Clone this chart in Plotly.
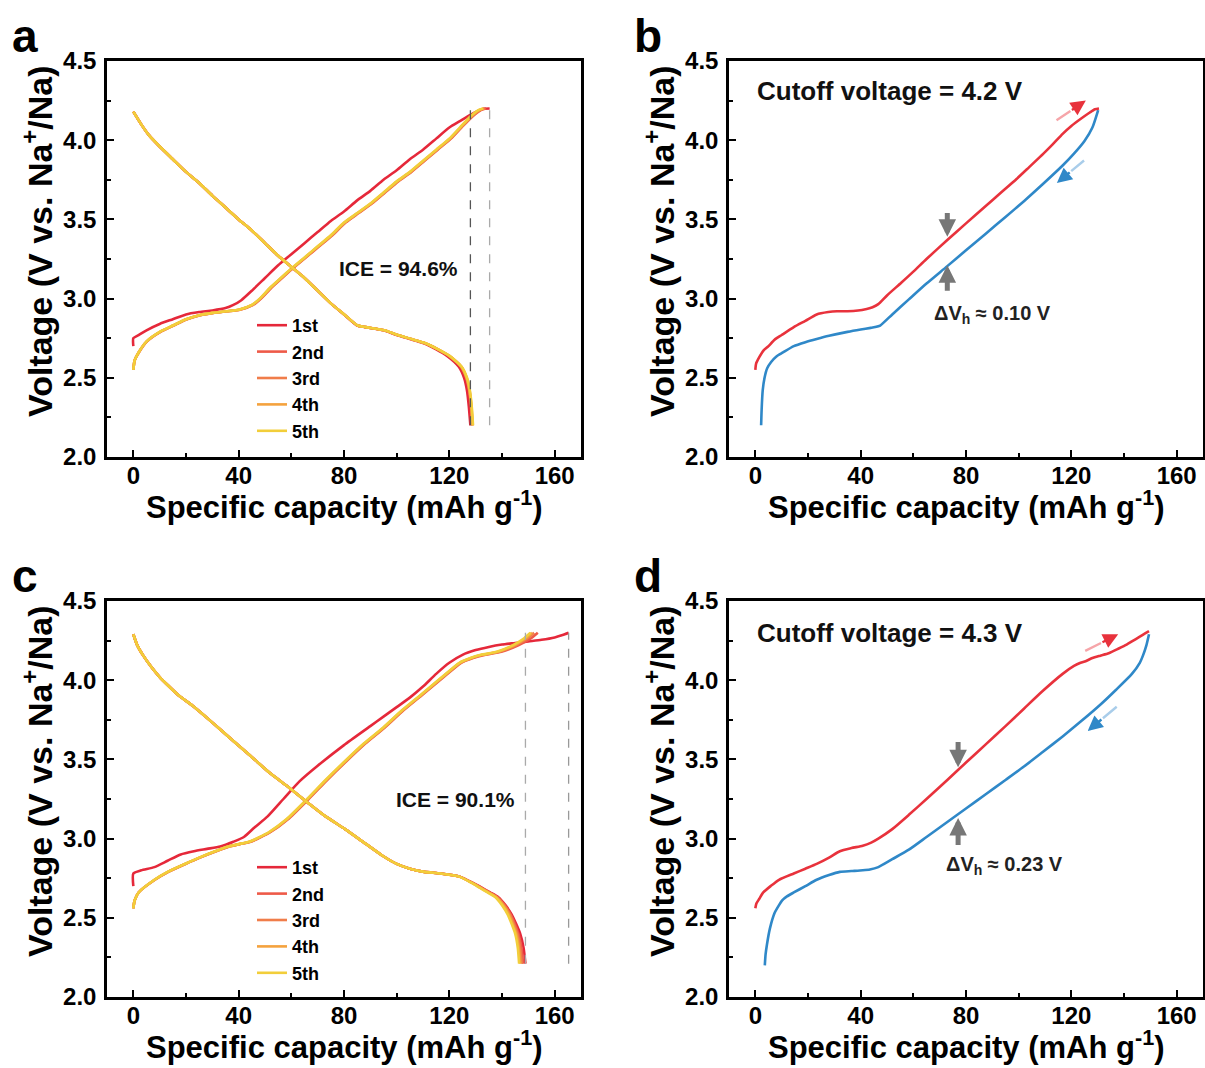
import plotly.graph_objects as go
from plotly.subplots import make_subplots

FONT = "Liberation Sans, Arial, sans-serif"
W, H = 1205, 1068

CYCLE_NAMES = ["1st", "2nd", "3rd", "4th", "5th"]
CYCLE_COLORS = ["#E5283A", "#EE5A48", "#F07D4A", "#F4A23E", "#F2CE3A"]
CHARGE_RED = "#E8323C"
DISCHARGE_BLUE = "#2F88C8"

X_TITLE = "Specific capacity (mAh g<sup>-1</sup>)"
Y_TITLE = "Voltage (V vs. Na<sup>+</sup>/Na)"

# ---------------- panel a: 2.2-4.2 V, first five cycles ----------------
A_CHG1_CAP = [0, 0, 2, 5, 10, 15, 20, 25, 30, 35, 38, 41, 45, 50, 55, 60, 65, 70, 75,
              80, 85, 90, 95, 100, 105, 110, 115, 120, 124, 128, 131, 133, 135.3]
A_CHG1_V = [2.70, 2.75, 2.77, 2.80, 2.84, 2.87, 2.90, 2.915, 2.925, 2.94, 2.96, 2.99, 3.05,
            3.13, 3.21, 3.28, 3.35, 3.42, 3.49, 3.55, 3.62, 3.68, 3.75, 3.81, 3.88, 3.94,
            4.01, 4.08, 4.12, 4.16, 4.185, 4.198, 4.20]
A_CHG_V = [2.55, 2.61, 2.66, 2.73, 2.79, 2.83, 2.87, 2.895, 2.91, 2.92, 2.93, 2.96, 3.00,
           3.07, 3.13, 3.19, 3.26, 3.33, 3.40, 3.48, 3.54, 3.60, 3.67, 3.74, 3.80, 3.87,
           3.94, 4.01, 4.08, 4.15, 4.19, 4.20]
A_CHG2_CAP = [0, 0.5, 2.1, 5.2, 10.3, 15.3, 20.4, 25.4, 30.4, 35.5, 40.5, 45.5, 48.5, 52.5,
              56.5, 60.5, 65.5, 70.6, 75.6, 80.6, 85.6, 90.6, 95.6, 100.6, 105.6, 110.6,
              115.6, 120.6, 124.6, 128.8, 132, 134]
A_CHG3_CAP = [0, 0.5, 2, 5.1, 10.2, 15.2, 20.2, 25.2, 30.2, 35.3, 40.3, 45.3, 48.3, 52.3,
              56.3, 60.3, 65.3, 70.3, 75.4, 80.4, 85.4, 90.4, 95.4, 100.4, 105.4, 110.4,
              115.4, 120.4, 124.4, 128.5, 131.6, 133.5]
A_CHG4_CAP = [0, 0.5, 2, 5.1, 10.1, 15.1, 20.1, 25.1, 30.1, 35.1, 40.1, 45.1, 48.1, 52.1,
              56.1, 60.2, 65.2, 70.2, 75.2, 80.2, 85.2, 90.2, 95.2, 100.2, 105.2, 110.2,
              115.2, 120.2, 124.2, 128.2, 131.3, 133.1]
A_CHG5_CAP = [0, 0.5, 2, 5, 10, 15, 20, 25, 30, 35, 40, 45, 48, 52, 56, 60, 65, 70, 75, 80,
              85, 90, 95, 100, 105, 110, 115, 120, 124, 128, 131, 132.8]
A_DIS_V = [4.18, 4.10, 4.03, 3.96, 3.88, 3.80, 3.73, 3.65, 3.575, 3.50, 3.43, 3.35, 3.27,
           3.20, 3.13, 3.05, 2.97, 2.90, 2.83, 2.82, 2.80, 2.77, 2.745, 2.72, 2.68, 2.64,
           2.57, 2.50, 2.42, 2.32, 2.20]
A_DIS1_CAP = [0, 3, 6, 10, 15, 20, 25, 30, 35, 40, 45, 50, 55, 60, 65, 70, 75, 80, 85, 88,
              95, 100, 105, 110, 115, 119, 123.6, 125.6, 126.7, 127.4, 128.0]
A_DIS2_CAP = [0, 3, 6, 10, 15, 20, 25, 30, 35, 40, 45, 50, 55, 60, 65, 70, 75, 80, 85.1,
              88.1, 95.2, 100.3, 105.4, 110.5, 115.6, 119.7, 124.4, 126.4, 127.5, 128.2, 128.7]
A_DIS3_CAP = [0, 3, 6, 10, 15, 20, 25, 30, 35, 40, 45, 50, 55, 60, 65, 70, 75, 80.1, 85.2,
              88.2, 95.3, 100.4, 105.5, 110.6, 115.7, 119.8, 124.5, 126.5, 127.6, 128.3, 128.8]
A_DIS4_CAP = [0, 3, 6, 10, 15, 20, 25, 30, 35, 40, 45, 50, 55, 60, 65, 70, 75, 80.1, 85.2,
              88.2, 95.3, 100.4, 105.5, 110.6, 115.7, 119.9, 124.6, 126.6, 127.7, 128.4, 128.9]
A_DIS5_CAP = [0, 3, 6, 10, 15, 20, 25, 30, 35, 40, 45, 50, 55, 60, 65, 70, 75, 80.1, 85.2,
              88.3, 95.4, 100.5, 105.6, 110.7, 115.8, 120, 124.7, 126.7, 127.8, 128.5, 129.0]

# ---------------- panel b: hysteresis loop, 4.2 V cutoff ----------------
B_CHG_CAP = [0, 0.3, 1.5, 3, 5, 7.3, 10, 14.6, 19, 23.3, 27.7, 31, 35, 39, 42.3, 44.5, 46.7,
             50, 55.4, 60, 65, 72.9, 80, 87.5, 93, 99.2, 104, 109.4, 113, 116.7, 120, 124,
             127, 129, 130.5]
B_CHG_V = [2.55, 2.59, 2.63, 2.67, 2.70, 2.74, 2.77, 2.82, 2.86, 2.90, 2.915, 2.92, 2.92,
           2.925, 2.935, 2.945, 2.965, 3.02, 3.10, 3.17, 3.25, 3.37, 3.475, 3.585, 3.665,
           3.755, 3.83, 3.915, 3.975, 4.04, 4.09, 4.14, 4.175, 4.195, 4.20]
B_DIS_CAP = [2.2, 2.4, 2.8, 3.5, 4.5, 6, 8, 10.5, 14.6, 19, 23.3, 28, 35, 40, 43.8, 45.5,
             47.4, 52, 58.3, 65, 72.9, 80, 87.5, 95, 102, 109, 116.7, 121, 125, 128, 130.2]
B_DIS_V = [2.20, 2.30, 2.42, 2.50, 2.56, 2.60, 2.635, 2.66, 2.70, 2.725, 2.745, 2.765, 2.79,
           2.805, 2.815, 2.82, 2.83, 2.90, 2.995, 3.095, 3.205, 3.305, 3.41, 3.515, 3.615,
           3.72, 3.84, 3.915, 3.995, 4.08, 4.19]

# ---------------- panel c: 2.2-4.3 V, first five cycles ----------------
C_CHG1_CAP = [0, 0, 3, 8, 13, 18, 23, 28, 33, 38, 42, 46, 51, 57, 63, 70, 80, 90, 95, 100,
              105, 110, 115, 120, 125, 130, 135, 140, 145, 150, 155, 160, 163, 165.3]
C_CHG1_V = [2.70, 2.78, 2.80, 2.82, 2.86, 2.90, 2.92, 2.935, 2.95, 2.98, 3.01, 3.07, 3.14,
            3.25, 3.36, 3.46, 3.59, 3.71, 3.77, 3.83, 3.89, 3.96, 4.04, 4.11, 4.16, 4.19,
            4.21, 4.225, 4.235, 4.245, 4.255, 4.27, 4.285, 4.30]
C_CHG_V = [2.56, 2.61, 2.66, 2.74, 2.79, 2.84, 2.88, 2.92, 2.95, 2.965, 2.98, 3.04, 3.12,
           3.25, 3.37, 3.49, 3.60, 3.70, 3.81, 3.91, 4.01, 4.11, 4.14, 4.16, 4.18, 4.22,
           4.26, 4.30]
C_CHG2_CAP = [0, 0.5, 2, 8.2, 13.3, 19.8, 25.3, 31.4, 36.5, 40.5, 44.6, 52, 58.6, 66.6, 73.6,
              81, 88.1, 95.4, 102.6, 109.9, 117.2, 124.5, 129, 133.4, 139.8, 146.2, 150.6, 153.6]
C_CHG3_CAP = [0, 0.5, 2, 8.1, 13.2, 19.7, 25.2, 31.3, 36.3, 40.3, 44.4, 51.8, 58.4, 66.4,
              73.4, 80.8, 87.9, 95.2, 102.4, 109.7, 116.9, 124.2, 128.6, 132.8, 139, 145.2,
              149.3, 152.2]
C_CHG4_CAP = [0, 0.5, 2, 8.1, 13.1, 19.6, 25.1, 31.2, 36.2, 40.2, 44.2, 51.6, 58.2, 66.2,
              73.2, 80.6, 87.7, 95, 102.2, 109.5, 116.7, 124, 128.3, 132.4, 138.5, 144.6,
              148.6, 151.4]
C_CHG5_CAP = [0, 0.5, 2, 8, 13, 19.5, 25, 31, 36, 40, 44, 51.4, 58, 66, 73, 80.4, 87.5, 94.8,
              102, 109.3, 116.5, 123.8, 128, 132, 138, 144, 148, 150.8]
C_DIS_V = [4.29, 4.22, 4.16, 4.08, 4.02, 3.97, 3.90, 3.84, 3.74, 3.63, 3.53, 3.42, 3.33,
           3.23, 3.14, 3.06, 2.97, 2.89, 2.84, 2.81, 2.79, 2.78, 2.76, 2.72, 2.69, 2.66,
           2.63, 2.58, 2.52, 2.46, 2.40, 2.31, 2.21]
C_DIS1_CAP = [0, 1.5, 3.6, 7, 10, 13, 17.5, 22.4, 29.5, 37, 44, 51.4, 58.5, 66, 73, 80.4, 88,
              94.8, 100, 105, 110.5, 116.6, 124, 129, 132.3, 135.5, 138.6, 141.3, 143.7,
              145.4, 146.9, 148.2, 148.9]
C_DIS2_CAP = [0, 1.5, 3.6, 7, 10, 13, 17.5, 22.4, 29.5, 37, 44, 51.4, 58.5, 66, 73, 80.4, 88,
              94.8, 100, 105, 110.5, 116.6, 123.9, 128.8, 132.1, 135.2, 138.3, 141, 143.3,
              144.9, 146.2, 147.4, 148]
C_DIS3_CAP = [0, 1.5, 3.6, 7, 10, 13, 17.5, 22.4, 29.5, 37, 44, 51.4, 58.5, 66, 73, 80.4, 88,
              94.8, 100, 105, 110.5, 116.6, 123.9, 128.7, 131.9, 135, 138.1, 140.7, 143,
              144.5, 145.8, 146.9, 147.5]
C_DIS4_CAP = [0, 1.5, 3.6, 7, 10, 13, 17.5, 22.4, 29.5, 37, 44, 51.4, 58.5, 66, 73, 80.4, 88,
              94.8, 100, 105, 110.5, 116.6, 123.8, 128.6, 131.7, 134.8, 137.8, 140.4, 142.6,
              144.1, 145.4, 146.4, 147]
C_DIS5_CAP = [0, 1.5, 3.6, 7, 10, 13, 17.5, 22.4, 29.5, 37, 44, 51.4, 58.5, 66, 73, 80.4, 88,
              94.8, 100, 105, 110.5, 116.6, 123.8, 128.5, 131.5, 134.5, 137.5, 140, 142.2,
              143.7, 145, 146, 146.5]

# ---------------- panel d: hysteresis loop, 4.3 V cutoff ----------------
D_CHG_CAP = [0, 0.4, 1.5, 3, 5.8, 9, 14.6, 19, 23.3, 28, 32.1, 36.5, 40.8, 44, 46.7, 52,
             58.3, 65, 72.9, 80, 87.5, 95, 102, 109, 116.7, 121, 123.5, 125.4, 128, 131,
             134.2, 138, 141, 143, 146, 148, 149.5]
D_CHG_V = [2.56, 2.59, 2.62, 2.66, 2.70, 2.74, 2.78, 2.81, 2.84, 2.88, 2.92, 2.94, 2.955,
           2.975, 3.00, 3.06, 3.15, 3.25, 3.37, 3.48, 3.595, 3.71, 3.82, 3.93, 4.04, 4.09,
           4.11, 4.12, 4.14, 4.155, 4.17, 4.20, 4.225, 4.245, 4.275, 4.295, 4.31]
D_DIS_CAP = [3.6, 3.9, 4.4, 5.5, 7.3, 9, 10.2, 12, 14.6, 19, 23.3, 28, 32.1, 36.5, 40.8,
             43.5, 46.7, 52, 58.3, 65, 72.9, 80, 87.5, 95, 102, 109, 116.7, 124, 131.3, 137,
             143, 146, 147.3, 148.5, 149.5]
D_DIS_V = [2.20, 2.27, 2.33, 2.43, 2.53, 2.58, 2.61, 2.635, 2.66, 2.70, 2.74, 2.77, 2.79,
           2.795, 2.80, 2.805, 2.82, 2.87, 2.93, 3.01, 3.105, 3.19, 3.28, 3.37, 3.455, 3.545,
           3.645, 3.745, 3.85, 3.94, 4.04, 4.11, 4.16, 4.22, 4.29]

A_CHARGE = [(A_CHG1_CAP, A_CHG1_V), (A_CHG2_CAP, A_CHG_V), (A_CHG3_CAP, A_CHG_V),
            (A_CHG4_CAP, A_CHG_V), (A_CHG5_CAP, A_CHG_V)]
A_DISCHARGE = [(c, A_DIS_V) for c in (A_DIS1_CAP, A_DIS2_CAP, A_DIS3_CAP, A_DIS4_CAP, A_DIS5_CAP)]
C_CHARGE = [(C_CHG1_CAP, C_CHG1_V), (C_CHG2_CAP, C_CHG_V), (C_CHG3_CAP, C_CHG_V),
            (C_CHG4_CAP, C_CHG_V), (C_CHG5_CAP, C_CHG_V)]
C_DISCHARGE = [(c, C_DIS_V) for c in (C_DIS1_CAP, C_DIS2_CAP, C_DIS3_CAP, C_DIS4_CAP, C_DIS5_CAP)]

# Guide arrows for panels b and d (capacity, voltage): tail -> head
B_GAP_X, B_GAP_TOP, B_GAP_BOT = 72.9, (3.55, 3.39), (3.04, 3.21)
D_GAP_X, D_GAP_TOP, D_GAP_BOT = 77.0, (3.62, 3.45), (2.95, 3.13)
B_RED_ARROW, B_BLUE_ARROW = ((113.8, 4.12), (125.5, 4.25)), ((125.4, 3.88), (114.5, 3.73))
D_RED_ARROW, D_BLUE_ARROW = ((124.7, 4.18), (137.8, 4.29)), ((137.8, 3.84), (126.2, 3.68))

fig = make_subplots(rows=2, cols=2)
CURVE = dict(width=2.6, shape="spline", smoothing=0.6)


def add_cycles(row, charge, discharge, legend_id):
    for i in range(5):
        cap, v = charge[i]
        fig.add_trace(go.Scatter(x=cap, y=v, mode="lines", name=CYCLE_NAMES[i],
                                 legendgroup=f"{legend_id}{i}", legend=legend_id,
                                 line=dict(color=CYCLE_COLORS[i], **CURVE)),
                      row=row, col=1)
    for i in range(5):
        cap, v = discharge[i]
        fig.add_trace(go.Scatter(x=cap, y=v, mode="lines", name=CYCLE_NAMES[i],
                                 legendgroup=f"{legend_id}{i}", legend=legend_id,
                                 showlegend=False,
                                 line=dict(color=CYCLE_COLORS[i], **CURVE)),
                      row=row, col=1)


def add_ice_guides(row, charge1, discharge1, dis_color, chg_color):
    # vertical guides at the first-cycle discharge and charge capacities
    dis_end = discharge1[0][-1]
    chg_end = charge1[0][-1]
    v_lo = min(discharge1[1])
    v_hi = max(charge1[1])
    for xv, col in ((dis_end, dis_color), (chg_end, chg_color)):
        fig.add_trace(go.Scatter(x=[xv, xv], y=[v_lo, v_hi], mode="lines", showlegend=False,
                                 hoverinfo="skip",
                                 line=dict(color=col, width=1.3, dash="dash")),
                      row=row, col=1)
    return 100 * dis_end / chg_end


add_cycles(1, A_CHARGE, A_DISCHARGE, "legend")
ice_a = add_ice_guides(1, A_CHARGE[0], A_DISCHARGE[0], "#555555", "#AAAAAA")
add_cycles(2, C_CHARGE, C_DISCHARGE, "legend2")
ice_c = add_ice_guides(2, C_CHARGE[0], C_DISCHARGE[0], "#AAAAAA", "#999999")

for row, (cc, cv, dc, dv) in ((1, (B_CHG_CAP, B_CHG_V, B_DIS_CAP, B_DIS_V)),
                              (2, (D_CHG_CAP, D_CHG_V, D_DIS_CAP, D_DIS_V))):
    fig.add_trace(go.Scatter(x=dc, y=dv, mode="lines", showlegend=False,
                             line=dict(color=DISCHARGE_BLUE, **CURVE)), row=row, col=2)
    fig.add_trace(go.Scatter(x=cc, y=cv, mode="lines", showlegend=False,
                             line=dict(color=CHARGE_RED, **CURVE)), row=row, col=2)

# ---------------- axes ----------------
PX_X = [(107, 581), (729, 1203)]
PX_Y = [(61, 457), (601, 997)]
tick_font = dict(family=FONT, size=24, color="black", weight="bold")

for k in range(4):
    r, c = divmod(k, 2)
    sx = "" if k == 0 else str(k + 1)
    fig.layout["xaxis" + sx].update(
        domain=(PX_X[c][0] / W, PX_X[c][1] / W), range=[-10, 170], tick0=0, dtick=40,
        ticks="inside", ticklen=7, tickwidth=2, tickcolor="black", ticklabelstandoff=-5,
        minor=dict(ticks="inside", ticklen=4, tickwidth=2, tickcolor="black", dtick=20, tick0=0),
        showline=True, linewidth=2.5, linecolor="black", mirror=True,
        showgrid=False, zeroline=False, automargin=False, tickfont=tick_font)
    fig.layout["yaxis" + sx].update(
        domain=(1 - PX_Y[r][1] / H, 1 - PX_Y[r][0] / H), range=[2.0, 4.5], tick0=2.0,
        dtick=0.5, tickformat=".1f", ticklabelstandoff=3,
        ticks="inside", ticklen=7, tickwidth=2, tickcolor="black",
        minor=dict(ticks="inside", ticklen=4, tickwidth=2, tickcolor="black", dtick=0.25, tick0=2.0),
        showline=True, linewidth=2.5, linecolor="black", mirror=True,
        showgrid=False, zeroline=False, automargin=False, tickfont=tick_font)

# ---------------- text and arrows ----------------
ann = []
for txt, px, py in (("a", 10, 8), ("b", 632, 8), ("c", 10, 548), ("d", 632, 548)):
    ann.append(dict(text=f"<b>{txt}</b>", xref="paper", yref="paper", x=px / W, y=1 - py / H,
                    xanchor="left", yanchor="top", showarrow=False,
                    font=dict(family=FONT, size=46, color="black")))

title_font = dict(family=FONT, size=31, color="black", weight="bold")
ytitle_font = dict(family=FONT, size=34, color="black", weight="bold")
for r in range(2):
    for c in range(2):
        x0, x1 = PX_X[c]
        y0, y1 = PX_Y[r]
        ann.append(dict(text=X_TITLE, xref="paper", yref="paper", x=(x0 + x1) / 2 / W,
                        y=1 - (y1 + 48) / H, xanchor="center", yanchor="middle",
                        showarrow=False, font=title_font))
        ann.append(dict(text=Y_TITLE, xref="paper", yref="paper", x=(x0 - 70) / W,
                        y=1 - ((y0 + y1) / 2 - 18) / H, xanchor="center", yanchor="middle",
                        textangle=-90, showarrow=False, font=ytitle_font))

note_font = dict(family=FONT, size=21, color="#111111", weight="bold")
ann.append(dict(text=f"ICE = {ice_a:.1f}%", xref="x", yref="y", x=77.5, y=3.19,
                xanchor="left", yanchor="middle", showarrow=False, font=note_font))
ann.append(dict(text=f"ICE = {ice_c:.1f}%", xref="x3", yref="y3", x=99, y=3.25,
                xanchor="left", yanchor="middle", showarrow=False, font=note_font))

cut_font = dict(family=FONT, size=26, color="#111111", weight="bold")
dv_font = dict(family=FONT, size=20, color="#222222", weight="bold")
panels = [
    ("x2", "y2", "4.2", "0.10", (0, 4.31), (67, 2.90), B_GAP_X, B_GAP_TOP, B_GAP_BOT,
     B_RED_ARROW, B_BLUE_ARROW),
    ("x4", "y4", "4.3", "0.23", (0, 4.30), (71.5, 2.83), D_GAP_X, D_GAP_TOP, D_GAP_BOT,
     D_RED_ARROW, D_BLUE_ARROW),
]
for xr, yr, cut, dvh, cpos, dpos, xg, top_arrow, bot_arrow, red_arr, blue_arr in panels:
    ann.append(dict(text=f"Cutoff voltage = {cut} V", xref=xr, yref=yr, x=cpos[0], y=cpos[1],
                    xanchor="left", yanchor="middle", showarrow=False, font=cut_font))
    ann.append(dict(text=f"ΔV<sub>h</sub> ≈ {dvh} V", xref=xr, yref=yr, x=dpos[0], y=dpos[1],
                    xanchor="left", yanchor="middle", showarrow=False, font=dv_font))
    # grey arrows pinching the voltage gap
    for (y0, y1) in (top_arrow, bot_arrow):
        ann.append(dict(text="", xref=xr, yref=yr, axref=xr, ayref=yr, x=xg, y=y1, ax=xg, ay=y0,
                        showarrow=True, arrowhead=2, arrowsize=0.7, arrowwidth=5,
                        arrowcolor="#777777"))
    # direction arrows with a pale tail
    for (p0, p1), full, pale in ((red_arr, CHARGE_RED, "#F6A5A9"),
                                 (blue_arr, DISCHARGE_BLUE, "#A9CDEA")):
        mid = ((p0[0] + p1[0]) / 2, (p0[1] + p1[1]) / 2)
        ann.append(dict(text="", xref=xr, yref=yr, axref=xr, ayref=yr, x=mid[0], y=mid[1],
                        ax=p0[0], ay=p0[1], showarrow=True, arrowhead=0, arrowwidth=2.4,
                        arrowcolor=pale))
        ann.append(dict(text="", xref=xr, yref=yr, axref=xr, ayref=yr, x=p1[0], y=p1[1],
                        ax=mid[0], ay=mid[1], showarrow=True, arrowhead=2, arrowsize=1.25,
                        arrowwidth=2.4, arrowcolor=full))

legend_style = dict(font=dict(family=FONT, size=18, color="black", weight="bold"),
                    bgcolor="rgba(0,0,0,0)", borderwidth=0, xanchor="left", yanchor="middle",
                    itemwidth=30, tracegroupgap=0)

fig.update_layout(
    width=W, height=H, margin=dict(l=0, r=0, t=0, b=0),
    paper_bgcolor="white", plot_bgcolor="white",
    font=dict(family=FONT, color="black"),
    annotations=ann,
    legend=dict(x=252 / W, y=1 - 378 / H, **legend_style),
    legend2=dict(x=252 / W, y=1 - 920 / H, **legend_style),
)

fig.write_html("out.html")
